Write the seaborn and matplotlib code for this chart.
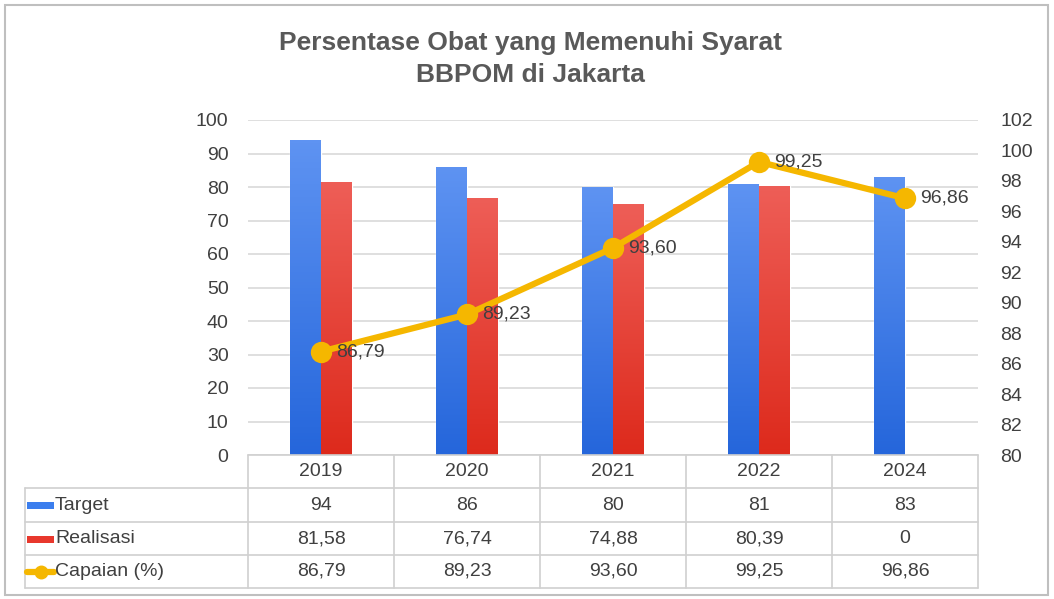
import numpy as np
import matplotlib
matplotlib.use('Agg')
import matplotlib.pyplot as plt
import matplotlib.transforms as mtransforms
from matplotlib.patches import Rectangle
from matplotlib.lines import Line2D
import pandas as pd
import seaborn as sns

years = ['2019', '2020', '2021', '2022', '2024']
target = [94, 86, 80, 81, 83]
realisasi = [81.58, 76.74, 74.88, 80.39, 0]
capaian = [86.79, 89.23, 93.60, 99.25, 96.86]

series_names = ['Target', 'Realisasi', 'Capaian (%)']
blue = '#3B7EEE'
red = '#E8382D'
gold = '#F5B700'
txt = '#404040'

sns.set_theme(style='white')
plt.rcParams['font.family'] = ['Liberation Sans', 'DejaVu Sans']

W, H = 1054, 599
fig = plt.figure(figsize=(W / 100, H / 100), dpi=100)
ax = fig.add_axes([248 / W, 1 - 455 / H, (978 - 248) / W, (455 - 120) / H])


def fx(px):
    return px / W


def fy(py):
    return 1 - py / H


df = pd.DataFrame({
    'year': years * 2,
    'value': target + realisasi,
    'series': ['Target'] * len(years) + ['Realisasi'] * len(years),
})

sns.barplot(data=df, x='year', y='value', hue='series', palette=[blue, red],
            width=0.42, ax=ax, legend=False, saturation=1, zorder=2)

# excel style vertical gradients on the bars
grads = {blue: ('#5E93F2', '#2566DB'), red: ('#EE5E57', '#DD2A1C')}
for i, p in enumerate(ax.patches):
    h = p.get_height()
    if h <= 0:
        continue
    c = blue if i < len(years) else red
    top, bot = grads[c]
    cmap = matplotlib.colors.LinearSegmentedColormap.from_list('g', [bot, top])
    g = np.linspace(0, 1, 100).reshape(-1, 1)
    x0 = p.get_x()
    im = ax.imshow(g, extent=[x0, x0 + p.get_width(), 0, h], origin='lower',
                   aspect='auto', cmap=cmap, zorder=2.5)
    im.set_clip_path(p)

ax.set_xlim(-0.5, 4.5)
ax.set_ylim(0, 100)
ax.set_yticks(range(0, 101, 10))
ax.yaxis.grid(True, color='#D9D9D9', linewidth=1.2, zorder=0)
ax.set_axisbelow(True)
ax.set_xticks([])
ax.set_xlabel('')
ax.set_ylabel('')
ax.tick_params(axis='y', length=0, pad=14, labelsize=14, labelcolor=txt)
for s in ax.spines.values():
    s.set_visible(False)

ax2 = ax.twinx()
sns.pointplot(x=years, y=capaian, ax=ax2, color=gold, markers='o',
              markersize=12, linewidth=4.5)
ax2.set_xlim(-0.5, 4.5)
ax2.set_ylim(80, 102)
ax2.set_yticks(range(80, 103, 2))
ax2.set_xticks([])
ax2.tick_params(axis='y', length=0, pad=16, labelsize=14, labelcolor=txt)
for s in ax2.spines.values():
    s.set_visible(False)
for i, v in enumerate(capaian):
    ax2.annotate(f'{v:.2f}'.replace('.', ','), (i, v), xytext=(11, 0),
                 textcoords='offset points', ha='left', va='center',
                 fontsize=14, color=txt, zorder=5)

fig.text(0.503, fy(43), 'Persentase Obat yang Memenuhi Syarat', ha='center',
         va='center', fontsize=19, fontweight='bold', color='#595959')
fig.text(0.503, fy(75), 'BBPOM di Jakarta', ha='center', va='center',
         fontsize=19, fontweight='bold', color='#595959')

# data table under the plot
tr = mtransforms.blended_transform_factory(ax.transData, fig.transFigure)
line_c = '#D0D0D0'
rows_y = [455, 488, 522, 555, 588]
for k, py in enumerate(rows_y):
    x_start = fx(25) if k >= 1 else fx(248)
    fig.add_artist(Line2D([x_start, fx(978)], [fy(py), fy(py)], color=line_c, lw=1.2))
for xb in np.arange(-0.5, 5, 1):
    ax.add_line(Line2D([xb, xb], [fy(455), fy(588)], transform=tr, color=line_c,
                       lw=1.2, clip_on=False))
fig.add_artist(Line2D([fx(25), fx(25)], [fy(488), fy(588)], color=line_c, lw=1.2))

def fmt(v):
    return '0' if v == 0 else f'{v:.2f}'.replace('.', ',')

table_rows = [
    [str(v) for v in target],
    [fmt(v) for v in realisasi],
    [f'{v:.2f}'.replace('.', ',') for v in capaian],
]
for i, y in enumerate(years):
    ax.text(i, fy(472), y, transform=tr, ha='center', va='center', fontsize=14,
            color=txt)
for r, vals in enumerate(table_rows):
    yc = fy((rows_y[r + 1] + rows_y[r + 2]) / 2)
    for i, s in enumerate(vals):
        ax.text(i, yc, s, transform=tr, ha='center', va='center', fontsize=14,
                color=txt)
    fig.text(fx(55), yc, series_names[r], ha='left', va='center', fontsize=14,
             color=txt)

# legend keys in the table
for r, c in enumerate([blue, red]):
    yc = (rows_y[r + 1] + rows_y[r + 2]) / 2
    fig.add_artist(Rectangle((fx(27), fy(yc + 4)), fx(27), 7 / H, facecolor=c,
                             edgecolor='none'))
yc = (rows_y[3] + rows_y[4]) / 2
fig.add_artist(Line2D([fx(27), fx(54)], [fy(yc), fy(yc)], color=gold, lw=4.5))
fig.add_artist(Line2D([fx(40.5)], [fy(yc)], color=gold, marker='o', markersize=9))

# outer chart border
fig.add_artist(Rectangle((fx(5), fy(595)), fx(1043), 590 / H, fill=False,
                         edgecolor='#BFBFBF', lw=1.5))

fig.savefig('out.png', dpi=100)
